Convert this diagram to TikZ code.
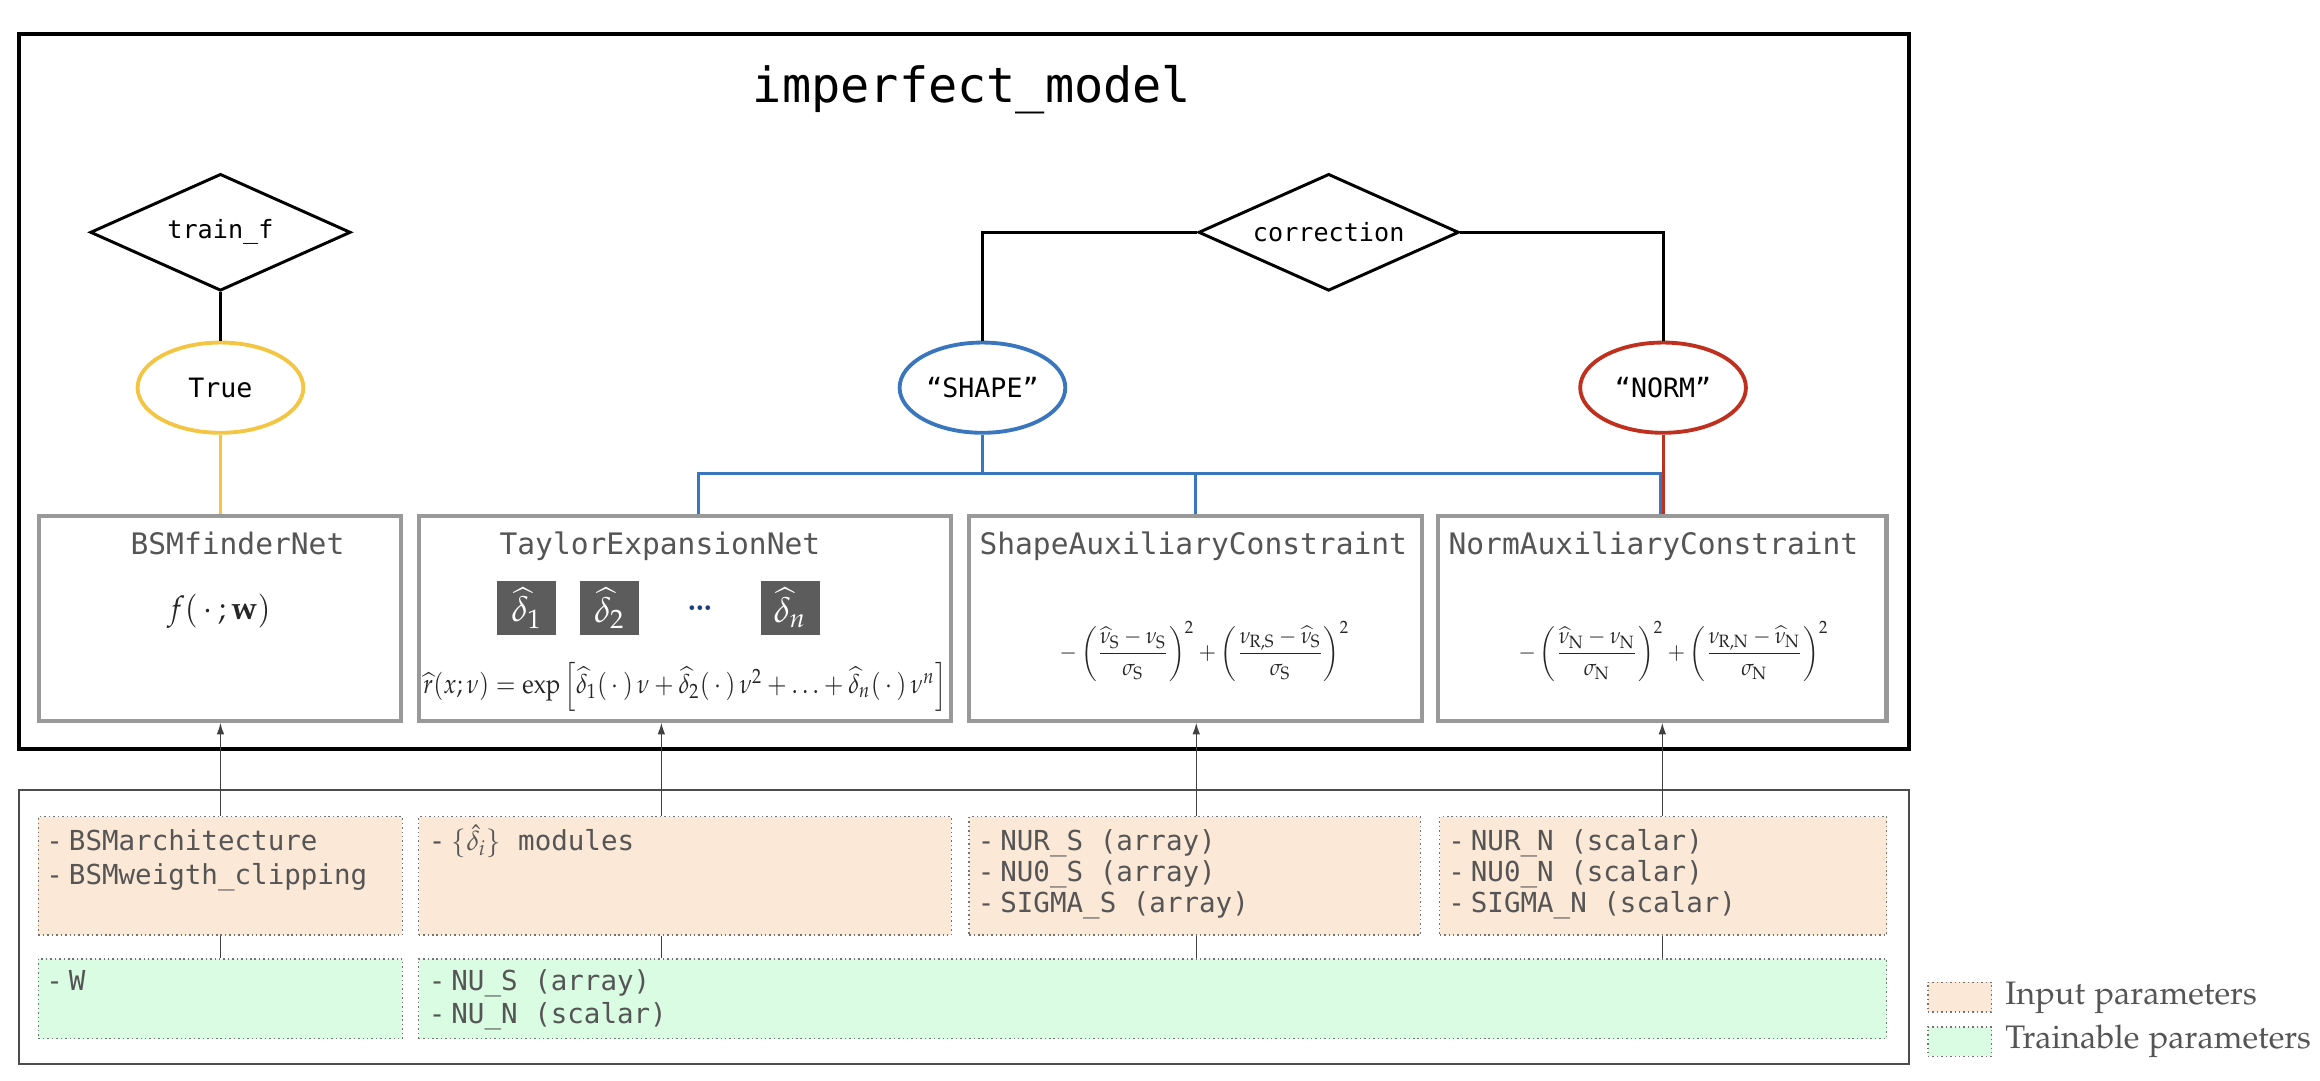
\documentclass[tikz,border=0pt]{standalone}
\usepackage{mathpazo}
\usepackage{amsmath}
\usepackage[no-math]{fontspec}
\setmonofont{DejaVu Sans Mono}
\usetikzlibrary{shapes.geometric,arrows.meta}

\definecolor{trueyel}{HTML}{F4C542}
\definecolor{shapeblue}{HTML}{3A76BE}
\definecolor{normred}{HTML}{C0301F}
\definecolor{boxgray}{HTML}{999999}
\definecolor{txtgray}{HTML}{555555}
\definecolor{inputfill}{HTML}{FBE8D6}
\definecolor{trainfill}{HTML}{D9FCE2}
\definecolor{deltafill}{HTML}{5C5C5C}
\definecolor{dotsblue}{HTML}{1F3F7A}

\newcommand{\itm}{-\hspace{2pt}}
\newcommand{\legfont}{\fontencoding{OT1}\fontfamily{pplx}\selectfont}

\begin{document}
\begin{tikzpicture}[x=.5pt,y=-.5pt,
  cond/.style={diamond,draw,line width=1pt,aspect=2.2,minimum width=88pt,minimum height=39.5pt,inner sep=0pt,font=\ttfamily\fontsize{8.5}{10}\selectfont},
  choice/.style={ellipse,draw,line width=1.3pt,minimum width=56pt,minimum height=30.5pt,inner sep=0pt,font=\ttfamily\fontsize{9}{10}\selectfont},
  netbox/.style={draw=boxgray,line width=1.4pt,minimum height=69pt,inner sep=0pt},
  nettitle/.style={anchor=base,text=txtgray,font=\ttfamily\fontsize{10}{12}\selectfont},
  parbox/.style={draw=black!55,densely dotted,line width=.5pt,inner sep=0pt},
  inbox/.style={parbox,fill=inputfill,minimum height=40pt},
  trbox/.style={parbox,fill=trainfill,minimum height=27pt},
  partext/.style={anchor=base west,align=left,inner sep=0pt,text=txtgray,font=\ttfamily\fontsize{9.3}{#1}\selectfont},
  partext/.default=11pt,
  dbox/.style={fill=deltafill,text=white,minimum width=20pt,minimum height=18pt,inner sep=0pt,font=\fontsize{12}{14}\selectfont},
  formula/.style={text=black!85,inner sep=0pt},
  tie/.style={line width=1pt},
  wire/.style={line width=.5pt,draw=black!75},
  >={Latex[length=4pt,width=2.6pt]}]
\useasboundingbox (0,0) rectangle (1568,730);

% model frame
\draw[line width=1.4pt] (13,23) rectangle (1290,506);
\node[anchor=base,font=\ttfamily\fontsize{16.4}{18}\selectfont] (title) at (657,69) {imperfect\_model};

% switches
\node[cond] (trainf) at (149,157) {train\_f};
\node[cond] (corr) at (898,157) {correction};
\node[choice,draw=trueyel] (true) at (149,262) {True};
\node[choice,draw=shapeblue] (shape) at (664,262) {“SHAPE”};
\node[choice,draw=normred] (norm) at (1124,262) {“NORM”};

% networks
\node[netbox,minimum width=122.25pt] (bsm) at (148.75,418) {};
\node[netbox,minimum width=180pt] (tay) at (463,418) {};
\node[netbox,minimum width=153pt] (saux) at (808,418) {};
\node[netbox,minimum width=151.5pt] (naux) at (1123.5,418) {};
\node[nettitle] (bsmT) at (160.5,375) {BSMfinderNet};
\node[nettitle] (tayT) at (446,375) {TaylorExpansionNet};
\node[nettitle] (sauxT) at (806.5,375) {ShapeAuxiliaryConstraint};
\node[nettitle] (nauxT) at (1117.5,375) {NormAuxiliaryConstraint};

\node[formula,font=\fontsize{11}{13}\selectfont] (fw) at (148,413) {\scalebox{.95}[1]{$f(\,\cdot\,;\mathbf{w})$}};
\node[dbox] (d1) at (356,411) {$\widehat{\delta}_1$};
\node[dbox] (d2) at (412,411) {$\widehat{\delta}_2$};
\node[text=dotsblue,font=\bfseries\fontsize{11}{12}\selectfont] (dd) at (473,411) {\ldots};
\node[dbox] (dn) at (534,411) {$\widehat{\delta}_n$};
\node[formula,font=\fontsize{9.2}{11}\selectfont] (rhat) at (463,464)
  {\scalebox{.875}[1]{$\widehat{r}(x;\nu)=\exp\left[\widehat{\delta}_1(\,\cdot\,)\,\nu+\widehat{\delta}_2(\,\cdot\,)\,\nu^2+\ldots+\widehat{\delta}_n(\,\cdot\,)\,\nu^n\right]$}};
\node[formula,font=\fontsize{9}{11}\selectfont] (sform) at (814,440)
  {\scalebox{.8}[.86]{$-\left(\dfrac{\widehat{\nu}_{\mathrm{S}}-\nu_{\mathrm{S}}}{\sigma_{\mathrm{S}}}\right)^{2}+\left(\dfrac{\nu_{\mathrm{R,S}}-\widehat{\nu}_{\mathrm{S}}}{\sigma_{\mathrm{S}}}\right)^{2}$}};
\node[formula,font=\fontsize{9}{11}\selectfont] (nform) at (1131,440)
  {\scalebox{.8}[.86]{$-\left(\dfrac{\widehat{\nu}_{\mathrm{N}}-\nu_{\mathrm{N}}}{\sigma_{\mathrm{N}}}\right)^{2}+\left(\dfrac{\nu_{\mathrm{R,N}}-\widehat{\nu}_{\mathrm{N}}}{\sigma_{\mathrm{N}}}\right)^{2}$}};

% switch wiring
\coordinate (busL) at (472,320);
\coordinate (busR) at (1122,320);
\draw[tie] (trainf.south) -- (true.north);
\draw[tie,trueyel,line width=1.2pt] (true.south) -- (bsm.north -| true.south);
\draw[tie] (corr.west) -| (shape.north);
\draw[tie] (corr.east) -| (norm.north);
\draw[tie,shapeblue] (shape.south) -- (shape.south |- busL);
\draw[tie,shapeblue] (tay.north -| busL) -- (busL) -- (busR) -- (naux.north -| busR);
\draw[tie,shapeblue] (busL -| saux.north) -- (saux.north);
\draw[tie,normred] (norm.south) -- (naux.north -| norm.south);

% parameters
\node[draw=black!70,line width=.6pt,minimum width=638.5pt,minimum height=92.5pt,inner sep=0pt] (params) at (651.5,626.5) {};
\node[inbox,minimum width=123pt] (in1) at (149,592) {};
\node[inbox,minimum width=180pt] (in2) at (463,592) {};
\node[inbox,minimum width=152.5pt] (in3) at (807.5,592) {};
\node[inbox,minimum width=151pt] (in4) at (1124,592) {};
\node[trbox,minimum width=123pt] (tr1) at (149,675) {};
\node[trbox,minimum width=496pt] (tr2) at (779,675) {};

% base anchor sits on the last line
\node[partext=11.5pt] (p1) at (31,597.5) {\itm BSMarchitecture\\\itm BSMweigth\_clipping};
\node[partext] (p2) at (289.5,574.5) {\itm$\{\hat{\delta}_i\}$ modules};
\node[partext=10.5pt] (p3) at (660.5,616.5) {\itm NUR\_S (array)\\\itm NU0\_S (array)\\\itm SIGMA\_S (array)};
\node[partext=10.5pt] (p4) at (978.5,616.5) {\itm NUR\_N (scalar)\\\itm NU0\_N (scalar)\\\itm SIGMA\_N (scalar)};
\node[partext] (p5) at (31,669.5) {\itm W};
\node[partext] (p6) at (289.5,691.5) {\itm NU\_S (array)\\\itm NU\_N (scalar)};

\coordinate (c1) at (149,0);
\coordinate (c2) at (447,0);
\coordinate (c3) at (808.5,0);
\coordinate (c4) at (1123.5,0);
\foreach \c/\net/\inp/\tr in {c1/bsm/in1/tr1,c2/tay/in2/tr2,c3/saux/in3/tr2,c4/naux/in4/tr2}{
  \draw[wire,->] (params.north -| \c) -- (\net.south -| \c);
  \draw[wire] (params.north -| \c) -- (\inp.north -| \c);
  \draw[wire] (\inp.south -| \c) -- (\tr.north -| \c);
}

% legend
\node[parbox,fill=inputfill,minimum width=21.5pt,minimum height=10pt] (legin) at (1324.5,674) {};
\node[parbox,fill=trainfill,minimum width=21.5pt,minimum height=10pt] (legtr) at (1324.5,704) {};
\node[anchor=west,inner sep=0pt,text=txtgray,font=\legfont\fontsize{11}{13}\selectfont] (leginT) at (1355,674) {Input parameters};
\node[anchor=west,inner sep=0pt,text=txtgray,font=\legfont\fontsize{11}{13}\selectfont] (legtrT) at (1355,704) {Trainable parameters};
\end{tikzpicture}
\end{document}
